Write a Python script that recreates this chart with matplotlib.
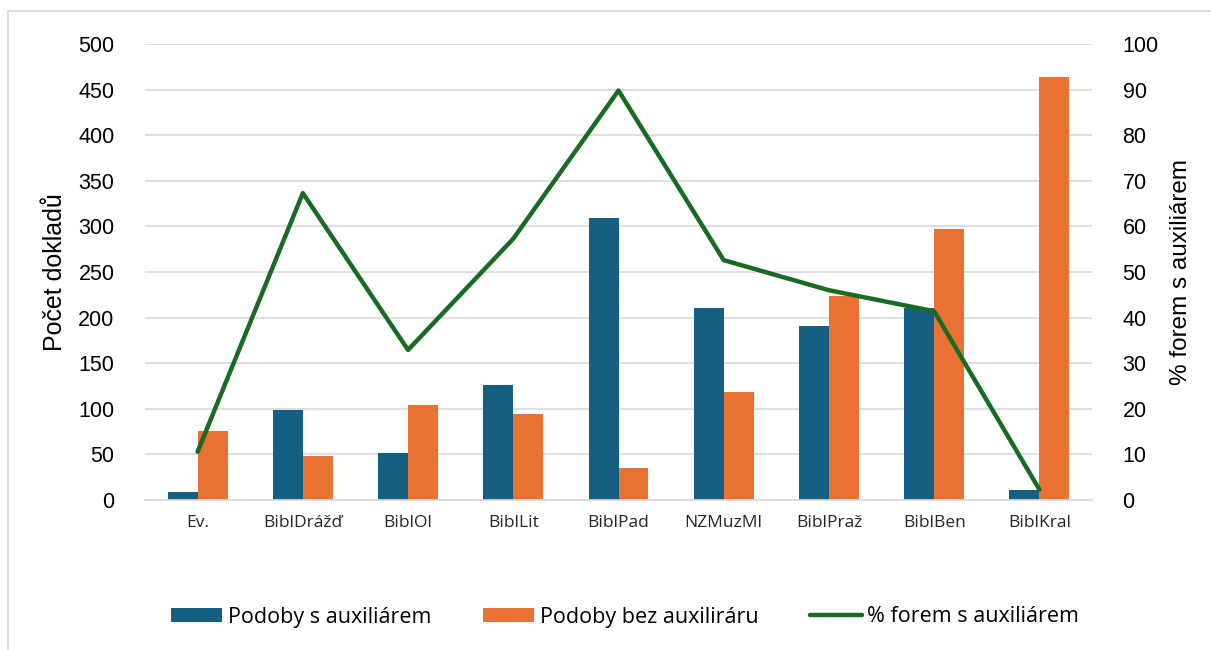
import matplotlib
matplotlib.use("Agg")
import matplotlib.pyplot as plt
import numpy as np
from matplotlib.patches import Rectangle

categories = ["Ev.", "BiblDrážď", "BiblOl", "BiblLit", "BiblPad", "NZMuzMl", "BiblPraž", "BiblBen", "BiblKral"]
s_aux = [9, 99, 51, 126, 309, 211, 191, 210, 11]
bez_aux = [76, 48, 104, 94, 35, 118, 224, 297, 464]
pct_aux = [10.6, 67.3, 32.9, 57.3, 89.8, 52.6, 46.0, 41.4, 2.3]

left_ticks = [0, 50, 100, 150, 200, 250, 300, 350, 400, 450, 500]
right_ticks = [0, 10, 20, 30, 40, 50, 60, 70, 80, 90, 100]

BLUE = "#156082"
ORANGE = "#E97132"
GREEN = "#196B24"
GRID = "#D9D9D9"

fig = plt.figure(figsize=(12.11, 6.5), dpi=100)
ax = fig.add_axes([145 / 1211, 1 - 500 / 650, (1092 - 145) / 1211, (500 - 44) / 650])
ax2 = ax.twinx()

x = np.arange(len(categories))
w = 0.285
ax.bar(x - w / 2, s_aux, w, color=BLUE, label="Podoby s auxiliárem", zorder=2)
ax.bar(x + w / 2, bez_aux, w, color=ORANGE, label="Podoby bez auxiliráru", zorder=2)
ax2.plot(x, pct_aux, color=GREEN, lw=3.2, solid_capstyle="round", solid_joinstyle="round",
         label="% forem s auxiliárem", zorder=3)

ax.set_xlim(-0.5, len(categories) - 0.5)
ax.set_ylim(0, 500)
ax2.set_ylim(0, 100)
ax.set_yticks(left_ticks)
ax2.set_yticks(right_ticks)
ax.set_xticks(x)
ax.set_xticklabels(categories, fontsize=12.5, family="Open Sans", color="#262626")

ax.yaxis.grid(True, color=GRID, lw=1.2, zorder=0)
ax.set_axisbelow(True)
for a in (ax, ax2):
    for s in a.spines.values():
        s.set_visible(False)
    a.tick_params(length=0)
ax.spines["bottom"].set_visible(True)
ax.spines["bottom"].set_color(GRID)
ax.spines["bottom"].set_linewidth(1.2)

ax.tick_params(axis="y", labelsize=15.5, pad=22, labelcolor="#000000")
ax2.tick_params(axis="y", labelsize=15.5, pad=22, labelcolor="#000000")
ax.tick_params(axis="x", pad=11)
for lab in ax.get_yticklabels() + ax2.get_yticklabels():
    lab.set_family("Liberation Sans")

ax.set_ylabel("Počet dokladů", fontsize=18, family="Liberation Sans", labelpad=8)
ax2.set_ylabel("% forem s auxiliárem", fontsize=17.5, family="Liberation Sans", labelpad=8)

h1, l1 = ax.get_legend_handles_labels()
h2, l2 = ax2.get_legend_handles_labels()
fig.legend(h1 + h2, l1 + l2, loc="center", bbox_to_anchor=(0.516, 1 - 617 / 650), ncol=3,
           frameon=False, prop={"family": "Open Sans", "size": 15.5},
           handlelength=2.4, handleheight=0.6, columnspacing=2.4, handletextpad=0.25)

fig.patches.append(Rectangle((8 / 1211, -0.05), 1.1, 1 - 11 / 650 + 0.05, transform=fig.transFigure,
                             fill=False, edgecolor=GRID, lw=1.2, zorder=0))

fig.savefig("out.png", dpi=100)
